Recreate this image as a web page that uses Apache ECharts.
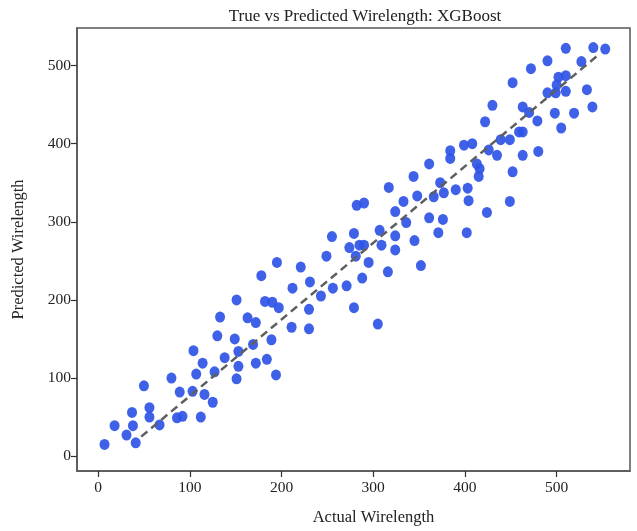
<!DOCTYPE html>
<html>
<head>
<meta charset="utf-8">
<title>True vs Predicted Wirelength: XGBoost</title>
<script src="https://cdn.jsdelivr.net/npm/echarts@6/dist/echarts.min.js"></script>
<style>
  html, body { margin: 0; padding: 0; background: #fff; }
  #main { width: 637px; height: 531px; }
</style>
</head>
<body>
<div id="main"></div>
<script>
// 实际值 / 预测值
var actual = [
  7, 18, 31, 41, 38, 37, 50, 56, 56, 67, 80, 89, 86, 92, 103, 112, 116, 125, 107, 104,
  114, 127, 130, 133, 138, 149, 151, 153, 153, 151, 163, 172, 169, 172, 184, 189, 182, 190, 194,
  178, 197, 195, 211, 212, 221, 231, 230, 230, 243, 249, 255, 256, 271, 274, 279, 281, 279, 282, 290,
  285, 290, 288, 295, 305, 307, 309, 316, 317, 324, 324, 324, 333, 336, 344, 348, 345, 352, 361, 361,
  510, 540, 553, 490, 527, 472, 452, 502, 510, 500, 490, 499, 510, 533, 539, 519, 498, 505, 479, 470,
  463, 430, 422, 459, 463, 439, 449, 426, 435, 463, 480, 452, 449, 424, 399, 408, 384, 384, 413, 416,
  415, 403, 404, 390, 373, 377, 366, 376, 371, 402
];
var predicted = [
  15, 39, 27, 17, 39, 56, 90, 62, 50, 40, 100, 82, 49, 51, 83, 50, 79, 69, 105, 135,
  119, 108, 154, 178, 126, 150, 200, 134, 115, 99, 177, 171, 143, 119, 124, 149, 198, 197, 104,
  231, 190, 248, 165, 215, 242, 223, 188, 163, 205, 256, 281, 215, 218, 267, 285, 256, 190, 321, 324,
  270, 270, 228, 248, 169, 289, 270, 236, 344, 282, 313, 264, 326, 299, 358, 333, 276, 244, 374, 305,
  522, 523, 521, 506, 505, 496, 478, 485, 487, 475, 465, 465, 467, 469, 447, 439, 439, 420, 429, 440,
  447, 449, 428, 415, 415, 405, 405, 392, 385, 385, 390, 364, 326, 312, 398, 400, 391, 381, 374, 368,
  358, 343, 327, 341, 350, 337, 332, 303, 286, 286
];
// dashed reference line
var lineX = [47, 547];
var lineY = [25, 515];
var xTicks = [0, 100, 200, 300, 400, 500];
var yTicks = [0, 100, 200, 300, 400, 500];

var points = actual.map(function (a, i) { return [a, predicted[i]]; });
var linePts = lineX.map(function (x, i) { return [x, lineY[i]]; });

var serif = 'Liberation Serif';
var myChart = echarts.init(document.getElementById('main'));
myChart.setOption({
    backgroundColor: '#fff',
    animation: false,
    title: {
        text: 'True vs Predicted Wirelength: XGBoost',
        left: 360,
        textAlign: 'center',
        top: 3,
        textStyle: { fontFamily: serif, fontSize: 17, fontWeight: 'normal', color: '#222' }
    },
    grid: {
        left: 77, right: 7, top: 28, bottom: 58,
        show: true,
        borderColor: '#555',
        borderWidth: 1.5
    },
    xAxis: {
        type: 'value',
        min: -23,
        max: 580,
        name: 'Actual Wirelength',
        nameLocation: 'middle',
        nameGap: 38,
        nameTextStyle: { fontFamily: serif, fontSize: 16.5, color: '#222', padding: [0, 0, 0, 40] },
        splitLine: { show: false },
        axisLine: { show: true, onZero: false, lineStyle: { color: '#555', width: 1.5 } },
        axisTick: { show: true, inside: false, length: 6, customValues: xTicks, lineStyle: { color: '#333', width: 1.2 } },
        axisLabel: { customValues: xTicks, fontFamily: serif, fontSize: 15.5, color: '#222', margin: 9 }
    },
    yAxis: {
        type: 'value',
        min: -19,
        max: 548,
        name: 'Predicted Wirelength',
        nameLocation: 'middle',
        nameGap: 50,
        nameTextStyle: { fontFamily: serif, fontSize: 16.5, color: '#222' },
        splitLine: { show: false },
        axisLine: { show: true, onZero: false, lineStyle: { color: '#555', width: 1.5 } },
        axisTick: { show: true, inside: false, length: 6, customValues: yTicks, lineStyle: { color: '#333', width: 1.2 } },
        axisLabel: { customValues: yTicks, fontFamily: serif, fontSize: 15.5, color: '#222', margin: 6 }
    },
    series: [
        {
            type: 'scatter',
            data: points,
            symbol: 'circle',
            symbolSize: [10, 11],
            itemStyle: { color: '#2f54e6', opacity: 0.92 },
            z: 2
        },
        {
            type: 'line',
            data: linePts,
            symbol: 'none',
            lineStyle: { color: '#5f5f5f', width: 2.5, type: [8, 5] },
            z: 3
        }
    ]
});
</script>
</body>
</html>
